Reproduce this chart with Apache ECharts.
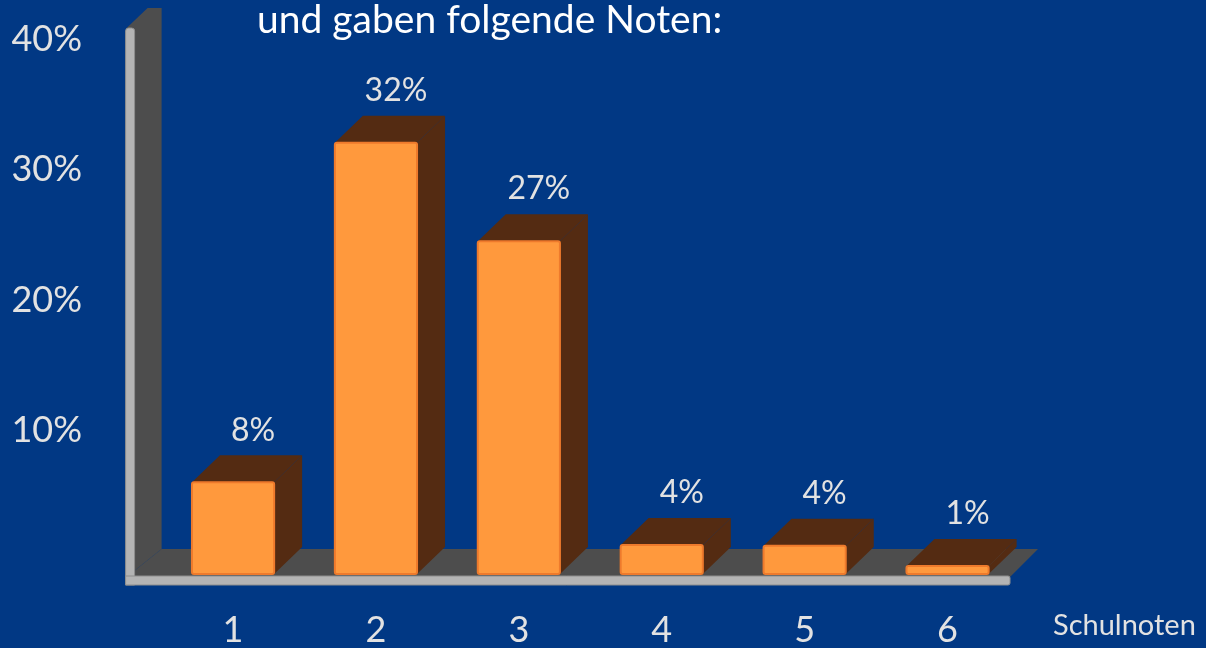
<!DOCTYPE html>
<html>
<head>
<meta charset="utf-8">
<script src="https://cdn.jsdelivr.net/npm/echarts@6/dist/echarts.min.js"></script>
<style>
  html, body { margin: 0; padding: 0; background: #013884; }
  #chart { width: 1206px; height: 648px; }
</style>
</head>
<body>
<div id="chart"></div>
<script>
// Schulnoten 1..6
const grades = ['1', '2', '3', '4', '5', '6'];
// Balkenhöhen wie gezeichnet (in %)
const barHeights = [6.8, 32, 24.7, 2.15, 2.1, 0.6];
// Beschriftung der Balken
const barLabels = ['8%', '32%', '27%', '4%', '4%', '1%'];
// Achsenbeschriftung
const yTicks = [0, 10, 20, 30, 40];

const FONT = 'Lato, "Open Sans", sans-serif';
const DEPTH = [28, -27];

const chart = echarts.init(document.getElementById('chart'));

// Boden und Seitenwand (aus dem Grid berechnet)
function renderWalls(params, api) {
    const bw = api.size([1, 0])[0];
    const base = api.coord([0, 0]);
    const L = base[0] - bw / 2;
    const R = L + bw * grades.length;
    const yb = base[1];
    const top = api.coord([0, 40])[1];
    const dark = '#4d4d4d';
    const light = '#b4b4b4';
    const edge = '#8e8e8e';
    return {
        type: 'group',
        children: [
            { type: 'polygon', shape: { points: [[L - 35, top - 7], [L - 14, top - 27], [L, top - 27], [L, yb - 25], [L - 35, yb + 3]] }, style: { fill: dark } },
            { type: 'polygon', shape: { points: [[L, yb - 25], [R + 19, yb - 25], [R - 9, yb + 3], [L - 35, yb + 3]] }, style: { fill: dark } },
            { type: 'rect', shape: { x: L - 36, y: top - 7, width: 9, height: yb - top + 18, r: [3, 3, 0, 0] }, style: { fill: light, stroke: edge, lineWidth: 1 } },
            { type: 'rect', shape: { x: L - 36, y: yb + 2, width: R - L + 27, height: 9, r: [0, 2, 2, 0] }, style: { fill: light, stroke: edge, lineWidth: 1 } }
        ]
    };
}

// 3D-Balken: Vorderseite, Deckel, Seite
function renderBar(params, api) {
    const idx = params.dataIndex;
    const base = api.coord([api.value(0), 0]);
    const topPt = api.coord([api.value(0), api.value(1)]);
    const w = api.size([1, 0])[0] * 0.575;
    const x0 = base[0] - w / 2, x1 = base[0] + w / 2;
    const y0 = topPt[1], y1 = base[1];
    const [dx, dy] = DEPTH;
    const brown = '#542b12';
    return {
        type: 'group',
        children: [
            { type: 'polygon', shape: { points: [[x1, y0], [x1 + dx, y0 + dy], [x1 + dx, y1 + dy], [x1, y1]] }, style: { fill: brown } },
            { type: 'polygon', shape: { points: [[x0, y0], [x0 + dx, y0 + dy], [x1 + dx, y0 + dy], [x1, y0]] }, style: { fill: brown } },
            { type: 'rect', shape: { x: x0, y: y0, width: w, height: y1 - y0, r: 2 }, style: { fill: '#ff993d', stroke: '#ee7a2c', lineWidth: 2 } },
            { type: 'text', style: { text: barLabels[idx], x: base[0] + 20, y: y0 + dy - 25, align: 'center', verticalAlign: 'middle', fill: '#e2e2e2', font: '32px ' + FONT } }
        ]
    };
}

const option = {
    backgroundColor: '#013884',
    animation: false,
    title: [
        { text: 'und gaben folgende Noten:', left: 257, top: 1, padding: 0, textStyle: { color: '#ffffff', fontSize: 39, fontWeight: 'normal', fontFamily: FONT } },
        { text: 'Schulnoten', left: 1053, top: 611, padding: 0, textStyle: { color: '#e2e2e2', fontSize: 29, fontWeight: 'normal', fontFamily: FONT } }
    ],
    grid: [
        { left: 161.6, right: 187, top: 35, bottom: 73 },
        { left: 90, width: 10, top: 39, bottom: 87 }
    ],
    xAxis: [
        {
            type: 'category', gridIndex: 0, data: grades,
            axisLine: { show: false }, axisTick: { show: false },
            axisLabel: { color: '#e2e2e2', fontSize: 36, fontFamily: FONT, margin: 38, lineHeight: 36 }
        },
        { type: 'value', gridIndex: 1, show: false }
    ],
    yAxis: [
        { type: 'value', gridIndex: 0, min: 0, max: 40, show: false },
        {
            type: 'value', gridIndex: 1, min: yTicks[0], max: yTicks[yTicks.length - 1], interval: 10,
            axisLine: { show: false }, axisTick: { show: false }, splitLine: { show: false },
            axisLabel: { color: '#e2e2e2', fontSize: 36, fontFamily: FONT, margin: 8, showMinLabel: false, formatter: v => v === 0 ? '' : v + '%' }
        }
    ],
    series: [
        { type: 'custom', xAxisIndex: 0, yAxisIndex: 0, renderItem: renderWalls, data: [[0, 0]], silent: true },
        { type: 'custom', xAxisIndex: 0, yAxisIndex: 0, renderItem: renderBar, data: grades.map((g, i) => [i, barHeights[i]]) }
    ]
};
chart.setOption(option);
</script>
</body>
</html>
